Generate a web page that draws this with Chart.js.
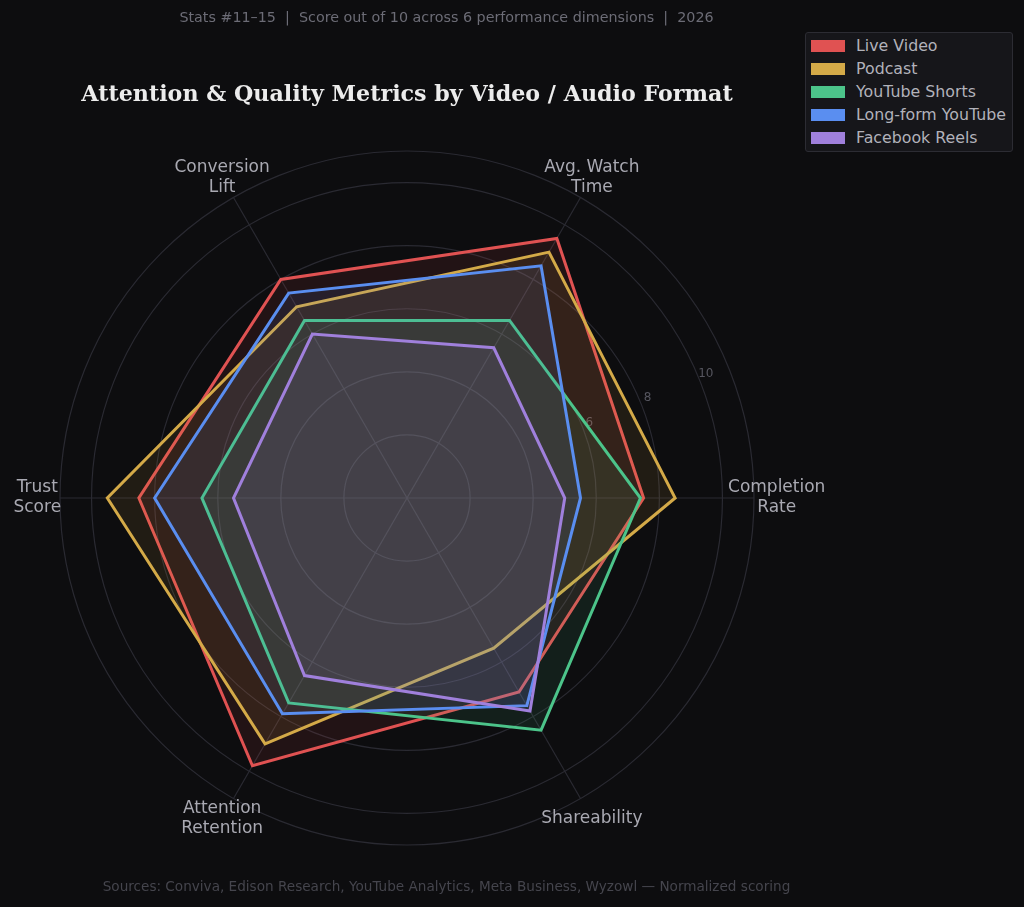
<!DOCTYPE html>
<html>
<head>
<meta charset="utf-8">
<script src="https://cdn.jsdelivr.net/npm/chart.js@4.4.1/dist/chart.umd.min.js"></script>
<style>
  html, body { margin: 0; padding: 0; background: #0d0d0f; }
  body { width: 1024px; height: 907px; position: relative; overflow: hidden; font-family: "DejaVu Sans", sans-serif; }
  #radar { position: absolute; left: 0; top: 0; }
  .sub { position: absolute; top: 9px; left: 0; width: 893px; text-align: center; font-size: 14.3px; color: #6c6c76; white-space: pre; }
  .title { position: absolute; top: 80px; left: 0; width: 814px; text-align: center; font-family: "DejaVu Serif", serif; font-weight: bold; font-size: 22.2px; color: #ececec; }
  .foot { position: absolute; top: 878px; left: 0; width: 893px; text-align: center; font-size: 13.6px; color: #45454d; white-space: pre; }
  #legend { position: absolute; left: 805px; top: 32px; width: 206px; height: 118px; background: #16161a; border: 1px solid #2c2c33; border-radius: 3px; }
  .row { position: absolute; left: 4px; height: 20px; font-size: 15.8px; color: #b2b2ba; white-space: nowrap; }
  .sw { position: absolute; left: 1px; top: 4px; width: 34px; height: 12px; }
  .lb { position: absolute; left: 46px; top: 0; line-height: 20px; }
</style>
</head>
<body>
<canvas id="radar" width="1024" height="907"></canvas>
<div class="sub">Stats #11–15  |  Score out of 10 across 6 performance dimensions  |  2026</div>
<div class="title">Attention &amp; Quality Metrics by Video / Audio Format</div>
<div id="legend"></div>
<div class="foot">Sources: Conviva, Edison Research, YouTube Analytics, Meta Business, Wyzowl — Normalized scoring</div>
<script>
// dimensions, clockwise starting from the right
const dimensions = [['Completion', 'Rate'], 'Shareability', ['Attention', 'Retention'], ['Trust', 'Score'], ['Conversion', 'Lift'], ['Avg. Watch', 'Time']];

const formats = ['Live Video', 'Podcast', 'YouTube Shorts', 'Long-form YouTube', 'Facebook Reels'];
const liveVideo = [7.5, 7.1, 9.8, 8.5, 8.0, 9.5];
const podcast = [8.5, 5.5, 9.0, 9.5, 7.0, 9.0];
const youtubeShorts = [7.4, 8.5, 7.5, 6.5, 6.5, 6.5];
const longFormYoutube = [5.5, 7.6, 7.9, 8.0, 7.5, 8.5];
const facebookReels = [5.0, 7.8, 6.5, 5.5, 6.0, 5.5];

const tickValues = [2, 4, 6, 8, 10];
// the inner tick labels sit under the filled shapes and can't be seen
const visibleTickLabels = [6, 8, 10];
const colors = ['#e05252', '#d4aa48', '#4cc48a', '#5a8ef0', '#a080dc'];

const seriesValues = [liveVideo, podcast, youtubeShorts, longFormYoutube, facebookReels];

function hexA(hex, a) {
  const n = parseInt(hex.slice(1), 16);
  return 'rgba(' + (n >> 16) + ',' + ((n >> 8) & 255) + ',' + (n & 255) + ',' + a + ')';
}

// legend
const legend = document.getElementById('legend');
formats.forEach(function(name, i) {
  const row = document.createElement('div');
  row.className = 'row';
  row.style.top = (3 + i * 23) + 'px';
  row.innerHTML = '<span class="sw" style="background:' + colors[i] + '"></span><span class="lb">' + name + '</span>';
  legend.appendChild(row);
});

// text around the polar axes
const polarText = {
  id: 'polarText',
  beforeDatasetsDraw(chart) {
    const r = chart.scales.r;
    const ctx = chart.ctx;
    const a = -22.5 * Math.PI / 180;
    ctx.save();
    ctx.font = '12px "DejaVu Sans"';
    ctx.fillStyle = '#56565f';
    ctx.textAlign = 'center';
    ctx.textBaseline = 'middle';
    visibleTickLabels.forEach(function(v) {
      const d = r.getDistanceFromCenterForValue(v) + 8;
      ctx.fillText(String(v), r.xCenter + Math.cos(a) * d, r.yCenter + Math.sin(a) * d);
    });
    ctx.restore();
  },
  afterDraw(chart) {
    const r = chart.scales.r;
    const ctx = chart.ctx;
    ctx.save();
    ctx.font = '17px "DejaVu Sans"';
    ctx.fillStyle = '#a9a9b2';
    ctx.textAlign = 'center';
    ctx.textBaseline = 'middle';
    dimensions.forEach(function(lab, i) {
      const p = r.getPointPosition(i, r.getDistanceFromCenterForValue(11.72));
      const lines = Array.isArray(lab) ? lab : [lab];
      lines.forEach(function(t, k) {
        ctx.fillText(t, p.x, p.y + (k - (lines.length - 1) / 2) * 20);
      });
    });
    ctx.restore();
  }
};

const ctx = document.getElementById('radar').getContext('2d');
const radarChart = new Chart(ctx, {
  type: 'radar',
  data: {
    labels: dimensions,
    datasets: formats.map(function(name, i) {
      return {
        label: name,
        data: seriesValues[i],
        borderColor: colors[i],
        backgroundColor: hexA(colors[i], 0.1),
        borderWidth: 3,
        pointRadius: 0,
        fill: true,
        order: formats.length - i
      };
    })
  },
  options: {
    responsive: false,
    animation: false,
    devicePixelRatio: 1,
    layout: { padding: { left: 60, top: 151, right: 270, bottom: 62 } },
    plugins: { legend: { display: false }, tooltip: { enabled: false } },
    elements: { line: { tension: 0 } },
    scales: {
      r: {
        min: 0,
        max: 11,
        startAngle: 90,
        afterBuildTicks: function(scale) {
          scale.ticks = [0].concat(tickValues, [11]).map(function(v) { return { value: v }; });
        },
        ticks: { display: false },
        pointLabels: { display: false },
        grid: { circular: true, color: '#2a2a32', lineWidth: 1.2 },
        angleLines: { color: '#2a2a32', lineWidth: 1.2 }
      }
    }
  },
  plugins: [polarText]
});
</script>
</body>
</html>
